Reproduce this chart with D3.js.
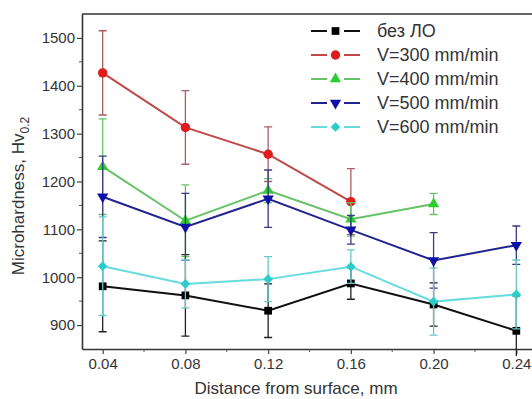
<!DOCTYPE html>
<html>
<head>
<meta charset="utf-8">
<script src="https://cdn.jsdelivr.net/npm/d3@7"></script>
<style>
  body { margin: 0; background: #fff; }
  svg { display: block; font-family: Arial, "Liberation Sans", sans-serif; }
</style>
</head>
<body>
<div id="chart"></div>
<script>
// distances, mm
const distances = [0.04, 0.08, 0.12, 0.16, 0.20, 0.24];

// microhardness values and error half-widths
const noTreat    = [981, 962, 930, 987, 943, 888];
const noTreatErr = [95, 85, 56, 33, 45, 73];
const v300    = [1427, 1313, 1257, 1158];
const v300Err = [88, 77, 57, 69];
const v400    = [1231, 1118, 1181, 1121, 1153];
const v400Err = [100, 75, 25, 35, 22];
const v500    = [1168, 1105, 1164, 1099, 1035, 1067];
const v500Err = [85, 70, 60, 30, 58, 40];
const v600    = [1023, 986, 996, 1022, 949, 964];
const v600Err = [103, 50, 47, 35, 70, 72];

const seriesNames = ["без ЛО", "V=300 mm/min", "V=400 mm/min", "V=500 mm/min", "V=600 mm/min"];
const yTicks = [900, 1000, 1100, 1200, 1300, 1400, 1500];
const xTicks = [0.04, 0.08, 0.12, 0.16, 0.20, 0.24];

var w = 532, h = 399;

var series = [
  {name: seriesNames[0], vals: noTreat, err: noTreatErr, line: "#111", mark: "#000", errc: "#222", sym: d3.symbolSquare, size: 60},
  {name: seriesNames[1], vals: v300, err: v300Err, line: "#c04848", mark: "#e01c1c", errc: "#a86060", sym: d3.symbolCircle, size: 70},
  {name: seriesNames[2], vals: v400, err: v400Err, line: "#66c266", mark: "#2ecc2e", errc: "#66c266", sym: d3.symbolTriangle, size: 55},
  {name: seriesNames[3], vals: v500, err: v500Err, line: "#23238f", mark: "#1010a8", errc: "#3a3a80", sym: d3.symbolTriangle, size: 55, flip: true},
  {name: seriesNames[4], vals: v600, err: v600Err, line: "#66dcdc", mark: "#2ccccc", errc: "#6cc8c8", sym: d3.symbolDiamond2, size: 60}
];

var svg = d3.select("#chart").append("svg")
  .attr("width", w)
  .attr("height", h);

// error bars stop just under the axis
svg.append("clipPath").attr("id", "errclip")
  .append("rect").attr("x", 0).attr("y", 0).attr("width", w).attr("height", 356);

var x = d3.scaleLinear().domain([0.03, 0.25]).range([82, 537]);
var y = d3.scaleLinear().domain([850, 1550]).range([349, 14]);

// axes
var yAxis = svg.append("g")
  .attr("transform", "translate(82,0)")
  .call(d3.axisLeft(y).tickValues(yTicks).tickFormat(d3.format("d")).tickSize(5).tickSizeOuter(0).tickPadding(2));
yAxis.selectAll("text").style("font-size", "15px").attr("fill", "#333");

var xAxis = svg.append("g")
  .attr("transform", "translate(0,349)")
  .call(d3.axisBottom(x).tickValues(xTicks).tickFormat(d3.format(".2f")).tickSize(5).tickSizeOuter(0).tickPadding(4));
xAxis.selectAll("text").style("font-size", "15px").attr("fill", "#333");

[yAxis, xAxis].forEach(a => {
  a.select(".domain").attr("stroke", "#333").attr("stroke-width", 1.6);
  a.selectAll(".tick line").attr("stroke", "#444").attr("stroke-width", 1.2);
});

// minor ticks
svg.append("g").selectAll("line")
  .data(d3.range(950, 1550, 100))
  .enter().append("line")
  .attr("x1", 79).attr("x2", 82)
  .attr("y1", d => y(d)).attr("y2", d => y(d))
  .attr("stroke", "#555");
svg.append("g").selectAll("line")
  .data([0.06, 0.10, 0.14, 0.18, 0.22])
  .enter().append("line")
  .attr("x1", d => x(d)).attr("x2", d => x(d))
  .attr("y1", 349).attr("y2", 352)
  .attr("stroke", "#555");

// top frame line
svg.append("line")
  .attr("x1", 82).attr("x2", w)
  .attr("y1", 14).attr("y2", 14)
  .attr("stroke", "#333").attr("stroke-width", 1.6);

// axis titles
svg.append("text")
  .attr("x", 296).attr("y", 394)
  .attr("text-anchor", "middle")
  .style("font-size", "17px").attr("fill", "#333")
  .text("Distance from surface, mm");

var yl = svg.append("text")
  .attr("transform", "translate(24,196) rotate(-90)")
  .attr("text-anchor", "middle")
  .style("font-size", "17px").attr("fill", "#333");
yl.append("tspan").text("Microhardness, Hv");
yl.append("tspan").attr("dy", 5).style("font-size", "12px").text("0.2");

// series
var line = d3.line().x(d => x(d[0])).y(d => y(d[1]));

series.forEach(s => {
  var pts = s.vals.map((v, i) => [distances[i], v, s.err[i]]);
  var g = svg.append("g");

  g.append("g").attr("clip-path", "url(#errclip)")
    .selectAll("path").data(pts).enter().append("path")
    .attr("d", d => {
      var cx = x(d[0]), y1 = y(d[1] + d[2]), y2 = y(d[1] - d[2]);
      return "M" + (cx - 4) + "," + y1 + "H" + (cx + 4) + "M" + cx + "," + y1 + "V" + y2 + "M" + (cx - 4) + "," + y2 + "H" + (cx + 4);
    })
    .attr("fill", "none")
    .attr("stroke", s.errc)
    .attr("stroke-width", 1.3);

  g.append("path")
    .datum(pts)
    .attr("d", line)
    .attr("fill", "none")
    .attr("stroke", s.line)
    .attr("stroke-width", 2);

  g.selectAll(".mk").data(pts).enter().append("path")
    .attr("d", d3.symbol().type(s.sym).size(s.size))
    .attr("transform", d => "translate(" + x(d[0]) + "," + y(d[1]) + ")" + (s.flip ? " rotate(180)" : ""))
    .attr("fill", s.mark);
});

// legend
var leg = svg.append("g").selectAll("g")
  .data(series)
  .enter().append("g")
  .attr("transform", (d, i) => "translate(0," + (31 + i * 24) + ")");

leg.append("line").attr("x1", 311).attr("x2", 327).attr("stroke", d => d.line).attr("stroke-width", 2);
leg.append("line").attr("x1", 344).attr("x2", 360).attr("stroke", d => d.line).attr("stroke-width", 2);
leg.append("path")
  .attr("d", d => d3.symbol().type(d.sym).size(d.size)())
  .attr("transform", d => "translate(335.5,0)" + (d.flip ? " rotate(180)" : ""))
  .attr("fill", d => d.mark);
leg.append("text")
  .attr("x", 377).attr("y", 6)
  .style("font-size", "18px").attr("fill", "#333")
  .text(d => d.name);
</script>
</body>
</html>
